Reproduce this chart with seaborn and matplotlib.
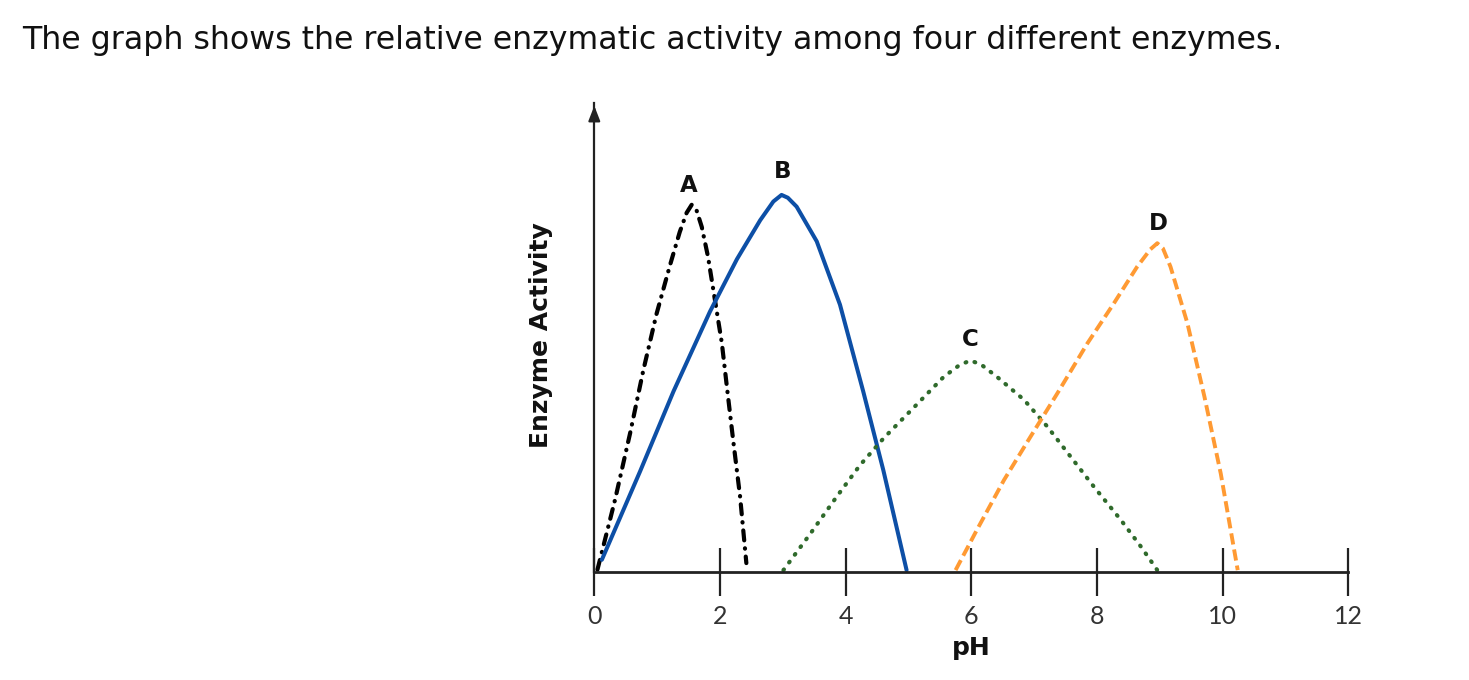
import numpy as np
import pandas as pd
import matplotlib
matplotlib.use("Agg")
import matplotlib.pyplot as plt
import seaborn as sns

# values (pH, relative activity on a 0-10 scale)
ph_a = [0.05, 0.33, 0.57, 0.78, 0.99, 1.20, 1.36, 1.47, 1.55, 1.63, 1.71, 1.81, 1.92, 2.03, 2.11, 2.21, 2.32, 2.42]
act_a = [0.05, 1.54, 2.96, 4.30, 5.50, 6.52, 7.25, 7.66, 7.83, 7.70, 7.36, 6.72, 5.80, 4.88, 3.95, 2.81, 1.61, 0.19]

ph_b = [0.12, 0.73, 1.26, 1.84, 2.27, 2.64, 2.85, 2.98, 3.08, 3.22, 3.54, 3.91, 4.28, 4.60, 4.97]
act_b = [0.26, 2.15, 3.85, 5.55, 6.67, 7.50, 7.90, 8.04, 7.98, 7.79, 7.05, 5.70, 3.85, 2.17, 0.04]

ph_c = [3.01, 3.44, 3.86, 4.23, 4.61, 5.08, 5.56, 5.80, 5.98, 6.15, 6.41, 6.84, 7.21, 7.58, 7.95, 8.38, 8.70, 8.96]
act_c = [0.04, 0.82, 1.61, 2.28, 2.86, 3.50, 4.16, 4.40, 4.51, 4.43, 4.16, 3.67, 3.10, 2.46, 1.82, 1.11, 0.54, 0.04]

ph_d = [5.75, 6.09, 6.52, 6.94, 7.37, 7.85, 8.27, 8.64, 8.85, 8.96, 9.05, 9.17, 9.44, 9.71, 9.97, 10.24]
act_d = [0.04, 0.90, 1.96, 2.88, 3.81, 4.88, 5.73, 6.51, 6.88, 7.01, 6.90, 6.51, 5.30, 3.74, 2.10, 0.04]

enzymes = ["A", "B", "C", "D"]
label_x = [1.50, 2.99, 5.98, 8.98]
label_y = [8.25, 8.54, 4.95, 7.43]
xticks = [0, 2, 4, 6, 8, 10, 12]

df = pd.concat([
    pd.DataFrame({"pH": ph_a, "activity": act_a, "enzyme": "A"}),
    pd.DataFrame({"pH": ph_b, "activity": act_b, "enzyme": "B"}),
    pd.DataFrame({"pH": ph_c, "activity": act_c, "enzyme": "C"}),
    pd.DataFrame({"pH": ph_d, "activity": act_d, "enzyme": "D"}),
])

sns.set_style("white")
plt.rcParams["font.family"] = ["DejaVu Sans"]

fig = plt.figure(figsize=(14.69, 6.8), dpi=100)
fig.text(22 / 1469, 1 - 40 / 680, "The graph shows the relative enzymatic activity among four different enzymes.",
         fontsize=22.8, va="center", ha="left", color="#111111")

ax = fig.add_axes([594.3 / 1469, 1 - 572 / 680, 754 / 1469, (572 - 103) / 680])

styles = {
    "A": dict(color="black", ls=(0, (2.4, 1.9, 0.1, 1.9)), lw=3.0, cap="round"),
    "B": dict(color="#0d4fa6", ls="-", lw=2.9, cap="round"),
    "C": dict(color="#2f6a2b", ls=(0, (0.2, 2.1)), lw=3.0, cap="round"),
    "D": dict(color="#ff9a33", ls=(0, (2.9, 1.3)), lw=2.8, cap="butt"),
}
for e in enzymes:
    sub = df[df.enzyme == e]
    st = styles[e]
    sns.lineplot(data=sub, x="pH", y="activity", ax=ax, sort=False, estimator=None,
                 color=st["color"], linestyle=st["ls"], linewidth=st["lw"],
                 dash_capstyle=st["cap"], solid_capstyle="round", solid_joinstyle="round",
                 dash_joinstyle="round", clip_on=False)

for name, lx, ly in zip(enzymes, label_x, label_y):
    ax.text(lx, ly, name, fontsize=16.5, fontweight="bold", ha="center", va="center", color="#111111")

ax.set_xlim(0, 12)
ax.set_ylim(0, 10)
ax.set_xticks(xticks)
ax.set_xticklabels([str(t) for t in xticks], fontsize=18, color="#333333",
                   fontfamily=["Lato", "DejaVu Sans"])
ax.set_yticks([])
ax.tick_params(axis="x", bottom=True, direction="inout", length=34, width=1.6, color="#222222", pad=7)

for s in ["top", "right"]:
    ax.spines[s].set_visible(False)
ax.spines["left"].set_linewidth(1.6)
ax.spines["bottom"].set_linewidth(2.0)
ax.spines["left"].set_color("#222222")
ax.spines["bottom"].set_color("#222222")
ax.annotate("", xy=(0, 1.0), xytext=(0, 0.96), xycoords="axes fraction",
            arrowprops=dict(arrowstyle="-|>,head_length=0.9,head_width=0.35", color="#222222", lw=1.6))

ax.set_xlabel("pH", fontsize=18, fontweight="bold", color="#111111")
ax.xaxis.set_label_coords(0.5, (572 - 636) / 469)
ax.set_ylabel("Enzyme Activity", fontsize=18, fontweight="bold", color="#111111")
ax.yaxis.set_label_coords(-0.055, (572 - 335) / 469)

fig.savefig("out.png", dpi=100)
